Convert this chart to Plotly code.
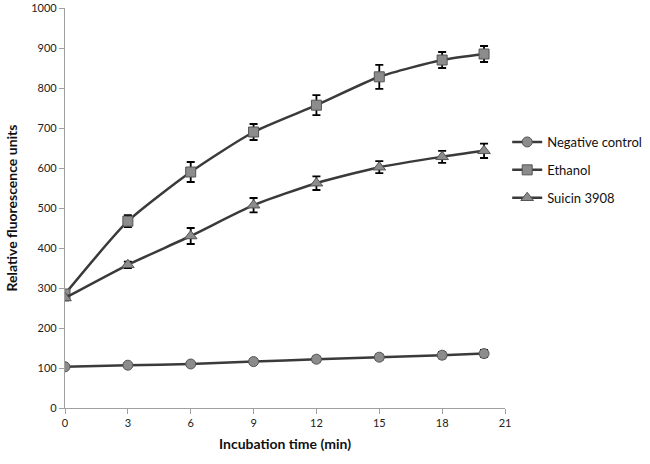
import plotly.graph_objects as go

time = [0, 3, 6, 9, 12, 15, 18, 20]
neg = [103, 107, 110, 116, 122, 127, 132, 136]
neg_err = [5, 5, 5, 6, 7, 7, 8, 9]
eth = [285, 467, 590, 690, 757, 828, 870, 885]
eth_err = [8, 15, 25, 20, 25, 30, 20, 20]
sui = [275, 358, 430, 507, 562, 602, 628, 643]
sui_err = [6, 8, 20, 18, 17, 15, 15, 18]

names = ["Negative control", "Ethanol", "Suicin 3908"]
symbols = ["circle", "square", "triangle-up"]
series = [neg, eth, sui]
errs = [neg_err, eth_err, sui_err]

fig = go.Figure()
for name, sym, y, e in zip(names, symbols, series, errs):
    fig.add_trace(go.Scatter(
        x=time, y=y, name=name, legendgroup=name, mode="lines+markers",
        line=dict(color="#3a3a3a", width=2.5, shape="spline", smoothing=0.6),
        marker=dict(symbol=sym, size=10 if sym != "triangle-up" else 11,
                    color="#8c8c8c", line=dict(color="#555555", width=1)),
        error_y=dict(type="data", array=e, visible=True, color="black",
                     thickness=1.8, width=4),
    ))

fig.update_layout(
    width=650, height=464,
    margin=dict(l=65, r=145, t=8, b=56, autoexpand=False),
    paper_bgcolor="white", plot_bgcolor="white",
    font=dict(family="Lato, Open Sans, sans-serif", color="#222"),
    showlegend=True,
    legend=dict(x=1.005, y=0.595, xanchor="left", yanchor="middle",
                font=dict(size=13, color="#111"), itemwidth=30,
                tracegroupgap=8, bgcolor="rgba(0,0,0,0)"),
    xaxis=dict(range=[0, 21], tickmode="array", tickvals=[0, 3, 6, 9, 12, 15, 18, 21],
               showgrid=False, zeroline=False, showline=True, linecolor="#a0a0a0",
               linewidth=1.2, ticks="outside", ticklen=5, tickcolor="#a0a0a0",
               tickfont=dict(size=11, color="#222"), automargin=False,
               title=dict(text="<b>Incubation time (min)</b>", font=dict(size=14, color="#111"),
                          standoff=10)),
    yaxis=dict(range=[0, 1000], tickmode="array", tickvals=list(range(0, 1001, 100)),
               showgrid=False, zeroline=False, showline=True, linecolor="#a0a0a0",
               linewidth=1.2, ticks="outside", ticklen=5, tickcolor="#a0a0a0",
               tickfont=dict(size=11, color="#222"), automargin=False,
               title=dict(text="<b>Relative fluorescence units</b>", font=dict(size=14, color="#111"),
                          standoff=10)),
)

fig.write_html("out.html", config={"displayModeBar": False},
               post_script="document.body.style.margin='0';document.body.style.overflow='hidden';")
